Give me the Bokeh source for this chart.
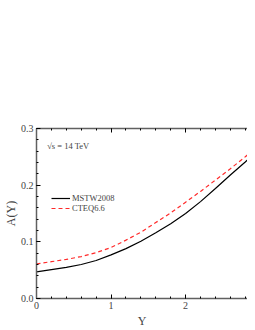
from bokeh.plotting import figure
from bokeh.models import (Range1d, LinearAxis, FixedTicker, Legend, LegendItem,
                          Label, PrintfTickFormatter)
from bokeh.embed import file_html
from bokeh.resources import INLINE

rapidity = [0.0, 0.2, 0.4, 0.6, 0.8, 1.0, 1.2, 1.4, 1.6, 1.8, 2.0, 2.2, 2.4, 2.6, 2.8, 2.9]
mstw2008 = [0.047, 0.051, 0.055, 0.060, 0.067, 0.077, 0.088, 0.101, 0.116, 0.132,
            0.150, 0.171, 0.194, 0.218, 0.241, 0.253]
cteq66 = [0.061, 0.065, 0.069, 0.074, 0.081, 0.090, 0.103, 0.117, 0.134, 0.151,
          0.170, 0.189, 0.209, 0.229, 0.250, 0.261]
x_ticks = [0, 1, 2]
y_ticks = [0.0, 0.1, 0.2, 0.3]

FONT = "Liberation Serif"

p = figure(width=247, height=330, output_backend="svg", toolbar_location=None,
           x_range=Range1d(0, 2.83), y_range=Range1d(0, 0.3),
           min_border_left=28, min_border_top=128, min_border_right=0,
           min_border_bottom=23)
p.outline_line_color = None
p.xgrid.visible = False
p.ygrid.visible = False
p.background_fill_color = "white"
p.border_fill_color = "white"

l1 = p.line(rapidity, mstw2008, line_color="black", line_width=1.2)
l2 = p.line(rapidity, cteq66, line_color="#ff2a2a", line_width=1.2, line_dash="4 3")

xt = FixedTicker(ticks=x_ticks, minor_ticks=[i * 0.2 for i in range(0, 15)])
yt = FixedTicker(ticks=y_ticks, minor_ticks=[i * 0.02 for i in range(0, 16)])

def style(ax):
    ax.axis_line_color = "#606060"
    ax.axis_line_width = 1.5
    ax.major_tick_in = 4
    ax.major_tick_out = 0
    ax.minor_tick_in = 2
    ax.minor_tick_out = 0
    ax.major_tick_line_color = "black"
    ax.minor_tick_line_color = "black"
    ax.major_label_text_font = FONT
    ax.major_label_text_font_size = "10px"
    ax.axis_label_text_font = FONT
    ax.axis_label_text_font_style = "normal"
    ax.axis_label_text_font_size = "12px"

xa = p.xaxis[0]
xa.ticker = xt
style(xa)
xa.axis_label = "Y"
xa.major_label_standoff = 3
xa.axis_label_standoff = 2

ya = p.yaxis[0]
ya.ticker = yt
ya.formatter = PrintfTickFormatter(format="%.1f")
style(ya)
ya.axis_label = "A(Y)"
ya.major_label_standoff = 3
ya.axis_label_standoff = 0

top = LinearAxis(ticker=xt)
style(top)
top.major_label_text_font_size = "0px"
top.major_label_text_color = None
p.add_layout(top, "above")

legend = Legend(items=[LegendItem(label="MSTW2008", renderers=[l1]),
                       LegendItem(label="CTEQ6.6", renderers=[l2])],
                location=(15, 85), border_line_color=None,
                background_fill_alpha=0, glyph_width=19, glyph_height=8,
                label_text_font=FONT, label_text_font_size="8.5px",
                spacing=-2, padding=0, margin=0, label_standoff=2,
                label_height=8)
p.add_layout(legend)

p.add_layout(Label(x=0.143, y=0.27, text="√s = 14 TeV", text_font=FONT,
                   text_font_size="8.5px", text_baseline="middle"))

open("out.html", "w").write(file_html(p, INLINE))
